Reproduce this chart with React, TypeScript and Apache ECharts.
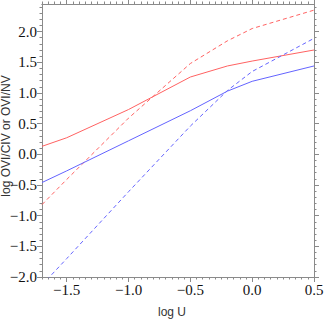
import React, { useEffect, useRef } from "react";
import * as echarts from "echarts";

// log U sample points
const logU = [-1.7, -1.5, -1.0, -0.5, -0.2, 0.0, 0.5];
// red solid
const redSolid = [0.13, 0.27, 0.73, 1.26, 1.44, 1.52, 1.7];
// red dashed
const redDashed = [-0.82, -0.41, 0.59, 1.48, 1.85, 2.05, 2.35];
// blue solid
const blueSolid = [-0.46, -0.27, 0.22, 0.71, 1.03, 1.19, 1.44];
// blue dashed
const blueDashed = [-2.13, -1.7, -0.61, 0.46, 1.04, 1.35, 1.89];

const xMajor = [-1.5, -1.0, -0.5, 0.0, 0.5];
const yMajor = [-2.0, -1.5, -1.0, -0.5, 0.0, 0.5, 1.0, 1.5, 2.0];

const X_MIN = -1.7;
const X_MAX = 0.5;
const Y_MIN = -2.0;
const Y_MAX = 2.45;

function range(a: number, b: number, step: number): number[] {
  const out: number[] = [];
  const n = Math.round((b - a) / step);
  for (let i = 0; i <= n; i++) out.push(Math.round((a + i * step) * 1000) / 1000);
  return out;
}
const xMinor = range(-1.7, 0.5, 0.05);
const yMinor = range(-2.0, 2.4, 0.1);

const AXIS_COLOR = "#8a8a8a";
const SERIF = "Liberation Serif";
const fmt = (v: number) => v.toFixed(1).replace("-", "\u2212");

function makeAxis(pos: string, isX: boolean, ticks: number[], len: number) {
  return {
    type: "value",
    position: pos,
    min: isX ? X_MIN : Y_MIN,
    max: isX ? X_MAX : Y_MAX,
    splitLine: { show: false },
    axisLine: { show: true, onZero: false, lineStyle: { color: AXIS_COLOR, width: 1 } },
    axisTick: {
      show: true,
      inside: false,
      length: len,
      customValues: ticks,
      lineStyle: { color: AXIS_COLOR, width: 1 },
    },
    axisLabel: { show: false },
  };
}

function toPairs(ys: number[]) {
  return logU.map((x, i) => [x, ys[i]]);
}

export default function App() {
  const ref = useRef<HTMLDivElement>(null);
  useEffect(() => {
    if (!ref.current) return;
    const chart = echarts.init(ref.current, undefined, { renderer: "svg" });
    const lineSeries = (name: string, ys: number[], color: string, dashed: boolean) => ({
      name,
      type: "line",
      xAxisIndex: 0,
      yAxisIndex: 0,
      data: toPairs(ys),
      symbol: "none",
      clip: true,
      lineStyle: { color, width: 1, type: dashed ? [4, 3] : "solid" },
    });
    chart.setOption({
      animation: false,
      backgroundColor: "#fff",
      grid: { left: 42, right: 13, top: 4, bottom: 44, containLabel: false },
      xAxis: [
        makeAxis("bottom", true, xMajor, 5),
        makeAxis("bottom", true, xMinor, 2.5),
        makeAxis("top", true, xMajor, 5),
        makeAxis("top", true, xMinor, 2.5),
      ],
      yAxis: [
        makeAxis("left", false, yMajor, 5),
        makeAxis("left", false, yMinor, 2.5),
        makeAxis("right", false, yMajor, 5),
        makeAxis("right", false, yMinor, 2.5),
      ],
      series: [
        lineSeries("red solid", redSolid, "#ff6262", false),
        lineSeries("red dashed", redDashed, "#ff6262", true),
        lineSeries("blue solid", blueSolid, "#6464ff", false),
        lineSeries("blue dashed", blueDashed, "#6464ff", true),
      ],
    });

    // tick labels placed through the axes' own scales
    const labelStyle = { fontFamily: SERIF, fontSize: 15, fill: "#111" };
    const xLabels = xMajor.map((v) => {
      const p = chart.convertToPixel({ xAxisIndex: 0, yAxisIndex: 0 }, [v, Y_MIN]) as number[];
      return {
        type: "text",
        x: p[0],
        y: p[1] + 5,
        style: { ...labelStyle, text: fmt(v), align: "center", verticalAlign: "top" },
      };
    });
    const yLabels = yMajor.map((v) => {
      const p = chart.convertToPixel({ xAxisIndex: 0, yAxisIndex: 0 }, [X_MIN, v]) as number[];
      return {
        type: "text",
        x: p[0] - 5,
        y: p[1],
        style: { ...labelStyle, text: fmt(v), align: "right", verticalAlign: "middle" },
      };
    });

    chart.setOption({
      graphic: [
        ...xLabels,
        ...yLabels,
        {
          type: "text",
          x: 172,
          y: 312,
          style: {
            text: "log U",
            fontFamily: "Liberation Sans",
            fontSize: 12,
            fill: "#333",
            align: "center",
            verticalAlign: "middle",
          },
        },
        {
          type: "text",
          x: 6,
          y: 136,
          rotation: Math.PI / 2,
          style: {
            text: "log OVI/CIV or OVI/NV",
            fontFamily: "Liberation Sans",
            fontSize: 12,
            fill: "#333",
            align: "center",
            verticalAlign: "middle",
          },
        },
      ],
    });
    return () => chart.dispose();
  }, []);
  return (
    <div
      ref={ref}
      style={{ position: "fixed", left: 0, top: 0, width: 327, height: 321, background: "#fff" }}
    />
  );
}
